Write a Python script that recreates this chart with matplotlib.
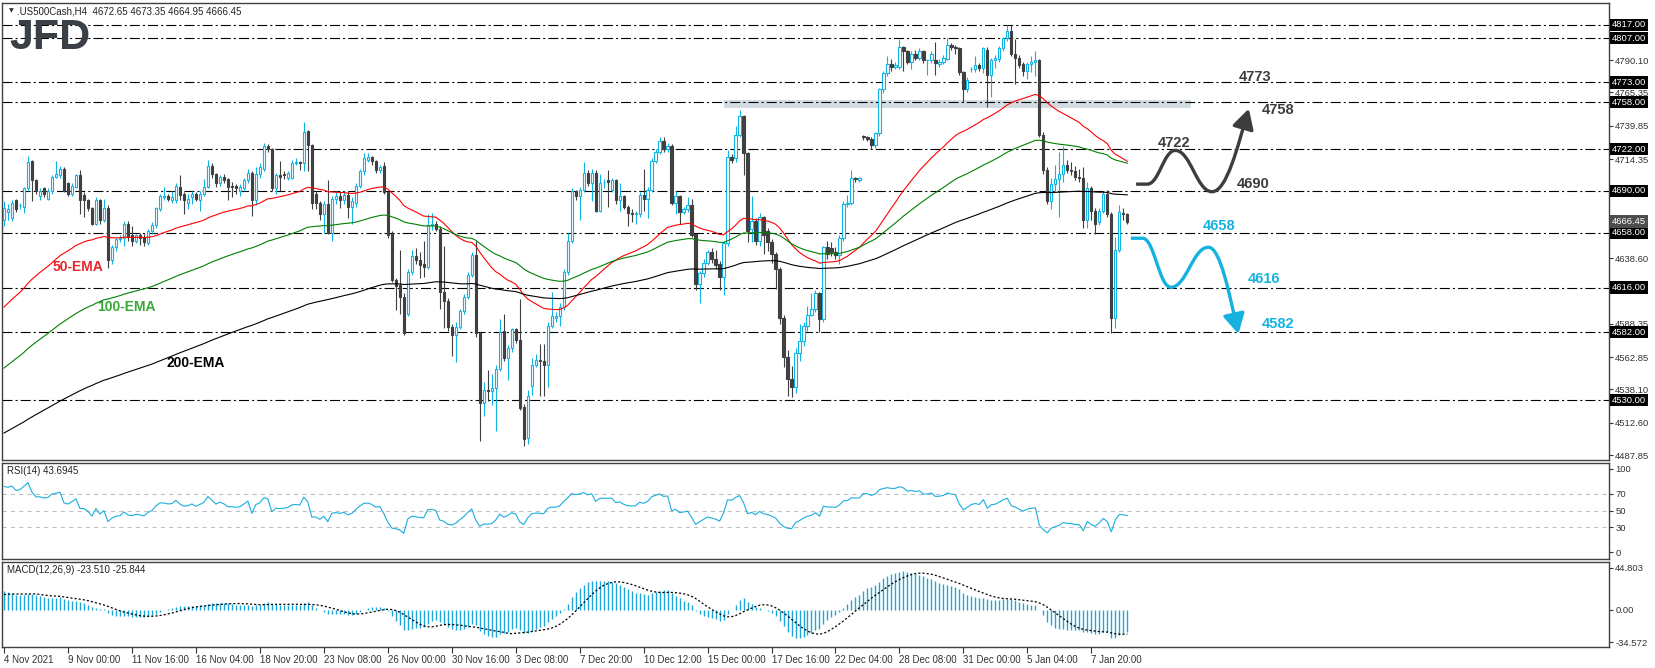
import numpy as np
import pandas as pd
import matplotlib
matplotlib.use("Agg")
import matplotlib.pyplot as plt
from matplotlib.path import Path
from matplotlib.patches import FancyArrowPatch

plt.rcParams['font.family'] = ['Liberation Sans', 'DejaVu Sans']
plt.rcParams['lines.scale_dashes'] = False

# ---- US500 H4 candles (bar 0 = 4 Nov 2021) ----
opens = [
    4668, 4674, 4669, 4683, 4679, 4678, 4692, 4713, 4698, 4686,
    4692, 4684, 4690, 4701, 4702, 4707, 4696, 4688, 4693, 4702,
    4687, 4683, 4677, 4665, 4683, 4668, 4677, 4637, 4647, 4653,
    4654, 4665, 4656, 4652, 4656, 4655, 4650, 4659, 4664, 4676,
    4685, 4686, 4683, 4683, 4693, 4688, 4681, 4685, 4688, 4683,
    4688, 4693, 4709, 4703, 4696, 4701, 4699, 4694, 4694, 4690,
    4692, 4698, 4704, 4683, 4703, 4707, 4724, 4722, 4692, 4702,
    4703, 4700, 4700, 4711, 4712, 4711, 4736, 4725, 4688, 4681,
    4672, 4680, 4658, 4684, 4686, 4683, 4687, 4678, 4681, 4694,
    4705, 4714, 4716, 4713, 4706, 4709, 4689, 4657, 4622, 4618,
    4609, 4596, 4628, 4640, 4637, 4634, 4632, 4664, 4665, 4661,
    4613, 4606, 4586, 4580, 4586, 4598, 4609, 4626, 4641, 4581,
    4528, 4538, 4537, 4539, 4554, 4583, 4562, 4570, 4584, 4576,
    4525, 4501, 4541, 4557, 4561, 4560, 4557, 4587, 4593, 4594,
    4601, 4628, 4652, 4690, 4686, 4691, 4704, 4696, 4704, 4675,
    4697, 4698, 4691, 4698, 4683, 4686, 4678, 4673, 4672, 4672,
    4687, 4684, 4691, 4713, 4720, 4728, 4722, 4724, 4681, 4686,
    4674, 4676, 4679, 4657, 4619, 4627, 4635, 4643, 4638, 4634,
    4624, 4650, 4716, 4715, 4733, 4747, 4719, 4661, 4667, 4652,
    4670, 4659, 4651, 4642, 4630, 4593, 4563, 4546, 4540, 4566,
    4575, 4587, 4595, 4600, 4612, 4592, 4647, 4646, 4643, 4641,
    4654, 4680, 4681, 4700, 4698, 4732, 4731, 4730, 4725, 4734,
    4768, 4780, 4787, 4785, 4785, 4800, 4797, 4789, 4795, 4792,
    4797, 4790, 4790, 4790, 4787, 4789, 4791, 4802, 4800, 4799,
    4781, 4768, 4783, 4783, 4786, 4784, 4798, 4779, 4790, 4791,
    4799, 4807, 4812, 4795, 4792, 4787, 4782, 4787, 4789, 4790,
    4733, 4706, 4682, 4695, 4699, 4703, 4710, 4706, 4705, 4701,
    4700, 4668, 4692, 4675, 4666, 4675, 4688, 4672, 4593, 4645,
    4673, 4672.65,
]
highs = [
    4682, 4680, 4683, 4684, 4681, 4693, 4717, 4714, 4699, 4692,
    4693, 4692, 4702, 4713, 4709, 4708, 4697, 4696, 4703, 4706,
    4689, 4684, 4678, 4685, 4684, 4684, 4679, 4649, 4654, 4656,
    4667, 4667, 4663, 4657, 4658, 4657, 4661, 4666, 4678, 4688,
    4693, 4688, 4690, 4696, 4702, 4689, 4688, 4690, 4689, 4690,
    4699, 4714, 4711, 4704, 4702, 4703, 4700, 4697, 4695, 4695,
    4700, 4707, 4705, 4708, 4711, 4727, 4726, 4723, 4704, 4713,
    4705, 4705, 4714, 4715, 4713, 4743, 4737, 4726, 4690, 4682,
    4682, 4698, 4686, 4690, 4690, 4690, 4690, 4685, 4696, 4707,
    4719, 4719, 4717, 4714, 4710, 4712, 4690, 4659, 4623, 4645,
    4612, 4630, 4645, 4646, 4643, 4652, 4672, 4673, 4667, 4663,
    4648, 4608, 4588, 4590, 4600, 4611, 4628, 4643, 4652, 4582,
    4544, 4553, 4550, 4557, 4592, 4596, 4572, 4585, 4585, 4607,
    4527, 4538, 4562, 4565, 4573, 4573, 4590, 4613, 4597, 4604,
    4630, 4658, 4692, 4691, 4693, 4712, 4706, 4707, 4706, 4703,
    4699, 4706, 4700, 4699, 4696, 4687, 4679, 4676, 4675, 4689,
    4707, 4693, 4715, 4722, 4731, 4731, 4727, 4726, 4690, 4687,
    4678, 4685, 4684, 4658, 4629, 4638, 4645, 4646, 4645, 4636,
    4652, 4721, 4718, 4740, 4752, 4748, 4720, 4686, 4669, 4673,
    4671, 4662, 4653, 4643, 4632, 4595, 4568, 4556, 4570, 4588,
    4590, 4602, 4612, 4614, 4613, 4648, 4652, 4651, 4647, 4656,
    4682, 4687, 4706, 4701, 4701, 4733, 4732, 4731, 4735, 4769,
    4782, 4793, 4791, 4789, 4806, 4801, 4798, 4797, 4798, 4799,
    4798, 4791, 4797, 4804, 4791, 4794, 4807, 4803, 4802, 4800,
    4782, 4777, 4785, 4793, 4788, 4800, 4800, 4792, 4794, 4801,
    4808, 4817, 4817, 4806, 4794, 4789, 4789, 4793, 4797, 4791,
    4735, 4708, 4700, 4710, 4720, 4724, 4714, 4712, 4709, 4707,
    4708, 4697, 4694, 4677, 4677, 4690, 4691, 4674, 4655, 4679,
    4677, 4673.35,
]
lows = [
    4663, 4668, 4667, 4674, 4676, 4673, 4690, 4682, 4688, 4683,
    4685, 4683, 4688, 4700, 4700, 4689, 4686, 4686, 4692, 4672,
    4670, 4675, 4664, 4664, 4665, 4666, 4631, 4634, 4644, 4651,
    4648, 4652, 4648, 4650, 4649, 4648, 4649, 4657, 4662, 4675,
    4683, 4682, 4681, 4681, 4683, 4672, 4676, 4680, 4682, 4675,
    4686, 4692, 4700, 4693, 4694, 4696, 4683, 4685, 4688, 4686,
    4690, 4696, 4671, 4679, 4700, 4705, 4720, 4690, 4688, 4690,
    4699, 4698, 4699, 4710, 4706, 4705, 4705, 4676, 4676, 4668,
    4658, 4657, 4652, 4680, 4677, 4680, 4669, 4665, 4678, 4692,
    4702, 4712, 4710, 4704, 4704, 4688, 4654, 4620, 4599, 4596,
    4580, 4594, 4626, 4634, 4623, 4624, 4630, 4660, 4659, 4600,
    4585, 4583, 4564, 4559, 4584, 4596, 4607, 4624, 4578, 4499,
    4518, 4529, 4526, 4506, 4552, 4560, 4545, 4567, 4574, 4522,
    4495, 4496, 4534, 4555, 4533, 4533, 4540, 4585, 4590, 4587,
    4599, 4626, 4650, 4683, 4668, 4689, 4694, 4682, 4674, 4674,
    4692, 4678, 4689, 4680, 4675, 4676, 4663, 4666, 4665, 4670,
    4675, 4669, 4689, 4711, 4718, 4720, 4720, 4679, 4672, 4665,
    4672, 4674, 4655, 4614, 4604, 4624, 4633, 4635, 4630, 4614,
    4610, 4648, 4711, 4712, 4731, 4702, 4651, 4651, 4649, 4648,
    4642, 4644, 4635, 4615, 4588, 4555, 4533, 4532, 4535, 4560,
    4571, 4583, 4594, 4597, 4582, 4590, 4638, 4640, 4638, 4634,
    4652, 4678, 4679, 4697, 4697, 4729, 4728, 4722, 4723, 4732,
    4765, 4778, 4782, 4783, 4783, 4782, 4787, 4783, 4790, 4790,
    4788, 4779, 4788, 4779, 4785, 4787, 4790, 4798, 4795, 4779,
    4758, 4766, 4781, 4781, 4782, 4780, 4754, 4762, 4784, 4789,
    4797, 4805, 4793, 4772, 4784, 4778, 4776, 4781, 4778, 4731,
    4703, 4680, 4676, 4690, 4670, 4697, 4704, 4702, 4698, 4697,
    4662, 4662, 4668, 4657, 4664, 4673, 4670, 4581, 4585, 4643,
    4668, 4664.95,
]
closes = [
    4677, 4676, 4681, 4676, 4679, 4692, 4712, 4698, 4690, 4690,
    4688, 4690, 4701, 4703, 4707, 4690, 4688, 4694, 4702, 4683,
    4683, 4677, 4665, 4683, 4668, 4677, 4637, 4647, 4653, 4654,
    4665, 4655, 4652, 4656, 4654, 4651, 4659, 4664, 4677, 4686,
    4686, 4684, 4685, 4694, 4687, 4683, 4684, 4688, 4684, 4688,
    4693, 4709, 4703, 4696, 4701, 4698, 4693, 4693, 4692, 4693,
    4698, 4704, 4683, 4703, 4708, 4724, 4722, 4692, 4702, 4701,
    4702, 4704, 4711, 4712, 4711, 4735, 4725, 4681, 4681, 4672,
    4680, 4658, 4684, 4686, 4683, 4687, 4678, 4682, 4694, 4705,
    4715, 4716, 4713, 4706, 4708, 4689, 4656, 4622, 4617, 4609,
    4581, 4628, 4640, 4637, 4633, 4632, 4664, 4665, 4661, 4613,
    4606, 4586, 4580, 4586, 4598, 4609, 4626, 4641, 4581, 4528,
    4538, 4537, 4539, 4554, 4582, 4562, 4570, 4584, 4576, 4524,
    4500, 4533, 4557, 4561, 4560, 4557, 4587, 4594, 4594, 4601,
    4628, 4652, 4690, 4686, 4691, 4704, 4696, 4704, 4675, 4696,
    4697, 4697, 4698, 4683, 4686, 4678, 4673, 4672, 4673, 4687,
    4684, 4691, 4713, 4720, 4728, 4722, 4724, 4681, 4686, 4674,
    4676, 4679, 4656, 4619, 4627, 4635, 4643, 4638, 4633, 4624,
    4650, 4716, 4714, 4733, 4747, 4719, 4659, 4667, 4652, 4670,
    4656, 4651, 4642, 4630, 4593, 4563, 4546, 4540, 4566, 4575,
    4587, 4595, 4600, 4612, 4592, 4647, 4642, 4643, 4641, 4654,
    4680, 4681, 4700, 4699, 4700, 4731, 4730, 4725, 4734, 4768,
    4780, 4787, 4785, 4786, 4800, 4797, 4789, 4795, 4792, 4797,
    4790, 4790, 4795, 4788, 4789, 4792, 4802, 4800, 4799, 4781,
    4768, 4775, 4783, 4786, 4784, 4799, 4779, 4790, 4792, 4799,
    4807, 4812, 4795, 4792, 4786, 4782, 4787, 4789, 4790, 4733,
    4706, 4682, 4695, 4699, 4703, 4710, 4706, 4705, 4701, 4700,
    4668, 4692, 4675, 4665, 4675, 4688, 4672, 4593, 4645, 4674,
    4672, 4666.45,
]

# indicator starting values read at the left edge of the chart
ema_start = {50: 4598, 100: 4552, 200: 4503}
macd_fast_start, macd_slow_start = 4676, 4654
signal_start = 16
rsi_gain_start, rsi_loss_start = 4.5, 1.2

# horizontal levels drawn by the analyst
levels = [4817, 4807, 4773, 4758, 4722, 4690, 4658, 4616, 4582, 4530]
zone_bars = [180, 297]
zone_prices = [4753.7, 4759.7]
last_price = 4666.45

price_ticks = [4487.85, 4512.60, 4538.10, 4562.85, 4588.35, 4638.60,
               4714.35, 4739.85, 4765.35, 4790.10]
tick_bars = [0, 16, 32, 48, 64, 80, 96, 112, 128, 144, 160, 176, 192, 208,
             224, 240, 256, 272]
tick_labels = ['4 Nov 2021', '9 Nov 00:00', '11 Nov 16:00', '16 Nov 04:00',
               '18 Nov 20:00', '23 Nov 08:00', '26 Nov 00:00', '30 Nov 16:00',
               '3 Dec 08:00', '7 Dec 20:00', '10 Dec 12:00', '15 Dec 00:00',
               '17 Dec 16:00', '22 Dec 04:00', '28 Dec 08:00', '31 Dec 00:00',
               '5 Jan 04:00', '7 Jan 20:00']

# scenario paths (bar, price): start, flat end, then turning points and arrow tip
bull_path = [(283.2, 4695.2), (286.0, 4695.2), (293.0, 4721.0), (302.2, 4689.4), (311.4, 4753.0)]
bear_path = [(281.9, 4653.8), (284.8, 4653.8), (291.9, 4616.3), (301.3, 4646.9), (308.8, 4580.5)]
bull_labels = [('4773', 313.0, 4776.8), ('4758', 318.6, 4751.6),
               ('4722', 292.6, 4726.7), ('4690', 312.6, 4695.3)]
bear_labels = [('4658', 304.0, 4662.8), ('4616', 315.1, 4622.6), ('4582', 318.6, 4588.2)]
ema_labels = [('50-EMA', 18.4, 4632.0, '#e8262e'), ('100-EMA', 30.7, 4601.2, '#38a838'),
              ('200-EMA', 48.0, 4558.3, 'black')]

CYAN = '#10b4e4'
DARK = '#404040'
ARROW_DARK = '#3d3d3d'
ARROW_CYAN = '#15b2e0'


def ema(values, period, start):
    k = 2.0 / (period + 1)
    out = []
    prev = start
    for v in values:
        prev = prev + k * (v - prev)
        out.append(prev)
    return np.array(out)


def rsi(values, period, gain0, loss0):
    ag, al = gain0, loss0
    out = [100 - 100 / (1 + ag / al)]
    for i in range(1, len(values)):
        d = values[i] - values[i - 1]
        ag = (ag * (period - 1) + max(d, 0)) / period
        al = (al * (period - 1) + max(-d, 0)) / period
        out.append(100 - 100 / (1 + ag / al))
    return np.array(out)


def wave(points):
    # smooth S-shaped path through the turning points
    verts = [points[0], points[1]]
    codes = [Path.MOVETO, Path.LINETO]
    for (x0, y0), (x1, y1) in zip(points[1:-1], points[2:]):
        dx = x1 - x0
        verts += [(x0 + 0.42 * dx, y0), (x1 - 0.42 * dx, y1), (x1, y1)]
        codes += [Path.CURVE4] * 3
    # last leg runs straight-ish into the arrow tip
    x0, y0 = points[-2]
    x1, y1 = points[-1]
    verts[-3] = (x0 + 0.40 * (x1 - x0), y0)
    verts[-2] = (x1 - 0.30 * (x1 - x0), y0 + 0.55 * (y1 - y0))
    return Path(verts, codes)


o = np.array(opens, float)
h = np.array(highs, float)
l = np.array(lows, float)
c = np.array(closes, float)
x = np.arange(len(c))

ema50 = ema(c, 50, ema_start[50])
ema100 = ema(c, 100, ema_start[100])
ema200 = ema(c, 200, ema_start[200])
macd = ema(c, 12, macd_fast_start) - ema(c, 26, macd_slow_start)
# MT4 signal line = 9-bar simple average of the MACD, primed with the value at the left edge
signal = pd.Series(np.r_[[signal_start] * 8, macd]).rolling(9).mean().values[8:]
rsi14 = rsi(c, 14, rsi_gain_start, rsi_loss_start)

W, H = 1655, 668
fig = plt.figure(figsize=(W / 100, H / 100), dpi=100)
ax = fig.add_axes([2 / W, 1 - 460 / H, 1607 / W, 457 / H])
ax_rsi = fig.add_axes([2 / W, 1 - 559 / H, 1607 / W, 96 / H])
ax_macd = fig.add_axes([2 / W, 1 - 647 / H, 1607 / W, 85 / H])

for a in (ax, ax_rsi, ax_macd):
    a.set_xlim(-0.5, 401.5)
    for s in a.spines.values():
        s.set_color(DARK)
        s.set_linewidth(1.0)
    a.yaxis.tick_right()
    a.tick_params(axis='y', length=3, width=0.8, pad=1.5, labelsize=6.8,
                  colors='#333333', direction='out')
    a.tick_params(axis='x', bottom=False, labelbottom=False)

# ---- main price panel ----
dash_dot = (0, (7.2, 2.2, 1.5, 2.2))
ax.fill_between(zone_bars, zone_prices[0], zone_prices[1], color='#d3dde1', lw=0, zorder=1)
for lv in levels:
    ax.axhline(lv, color='black', lw=0.8, ls=dash_dot, zorder=2)

up = c >= o
ax.vlines(x[up], l[up], h[up], color=CYAN, lw=0.8, zorder=3)
ax.vlines(x[~up], l[~up], h[~up], color=DARK, lw=0.8, zorder=3)
ax.bar(x[up], c[up] - o[up], bottom=o[up], width=0.55, facecolor='white',
       edgecolor=CYAN, lw=0.8, zorder=4)
ax.bar(x[~up], o[~up] - c[~up], bottom=c[~up], width=0.55, facecolor=DARK,
       edgecolor=DARK, lw=0.8, zorder=4)

ax.plot(x, ema50, color='red', lw=0.8, zorder=5)
ax.plot(x, ema100, color='green', lw=0.8, zorder=5)
ax.plot(x, ema200, color='black', lw=0.8, zorder=5)

for txt, bx, py, col in ema_labels:
    ax.text(bx, py, txt, color=col, fontsize=10, fontweight='bold', ha='center', va='center')

for pts, col in ((bull_path, ARROW_DARK), (bear_path, ARROW_CYAN)):
    arrow = FancyArrowPatch(path=wave(pts), arrowstyle='-|>,head_length=1.1,head_width=0.6',
                            mutation_scale=11, lw=2.4, color=col, zorder=6,
                            joinstyle='round', capstyle='butt')
    ax.add_patch(arrow)

for txt, bx, py in bull_labels:
    ax.text(bx, py, txt, color=ARROW_DARK, fontsize=10.5, fontweight='bold', ha='center', va='center')
for txt, bx, py in bear_labels:
    ax.text(bx, py, txt, color=ARROW_CYAN, fontsize=10.5, fontweight='bold', ha='center', va='center')

ax.set_ylim(4484.1, 4833.8)
ax.set_yticks(price_ticks)
ax.set_yticklabels([f'{v:.2f}' for v in price_ticks])

ytr = ax.get_yaxis_transform()
for lv in levels:
    ax.text(1.0018, lv, f'{lv:.2f}', transform=ytr, ha='left', va='center', color='white',
            fontsize=6.8, clip_on=False, zorder=10,
            bbox=dict(boxstyle='square,pad=0.18', fc='black', ec='none'))
ax.text(1.0018, last_price, f'{last_price:.2f}', transform=ytr, ha='left', va='center',
        color='white', fontsize=6.8, clip_on=False, zorder=10,
        bbox=dict(boxstyle='square,pad=0.18', fc='#4d4d4d', ec='none'))

fig.text(9 / W, 1 - 11 / H, '\u25bc', fontsize=4.5, color='#333333', va='center',
         family=['DejaVu Sans'])
fig.text(17 / W, 1 - 11 / H, '.US500Cash,H4  4672.65 4673.35 4664.95 4666.45',
         fontsize=7, color='#222222', va='center')
fig.text(9 / W, 1 - 38 / H, 'JFD', fontsize=31, fontweight='bold', color='#3b4046', va='center')

# ---- RSI panel ----
for lv in (30, 50, 70):
    ax_rsi.axhline(lv, color='#c0c0c0', lw=0.8, ls=(0, (3, 3)), zorder=1)
ax_rsi.plot(x, rsi14, color='#1aaee0', lw=0.8, zorder=3)
ax_rsi.set_ylim(-8.3, 107.1)
ax_rsi.set_yticks([0, 30, 50, 70, 100])
fig.text(7 / W, 1 - 471 / H, 'RSI(14) 43.6945', fontsize=7, color='#222222', va='center')

# ---- MACD panel ----
ax_macd.vlines(x, 0, macd, color='#1fa6d6', lw=1.0, zorder=2)
ax_macd.plot(x, signal, color='black', lw=0.9, ls=(0, (1.5, 1.5)), zorder=3)
ax_macd.set_ylim(-39.5, 51.2)
ax_macd.set_yticks([-34.572, 0, 44.803])
ax_macd.set_yticklabels(['-34.572', '0.00', '44.803'])
fig.text(7 / W, 1 - 570 / H, 'MACD(12,26,9) -23.510 -25.844', fontsize=7, color='#222222', va='center')

ax_macd.tick_params(axis='x', bottom=True, labelbottom=True, length=4, width=0.8,
                    pad=2, labelsize=7, colors='#333333')
ax_macd.set_xticks(tick_bars)
ax_macd.set_xticklabels(tick_labels, ha='left')

fig.savefig('out.png', dpi=100)
